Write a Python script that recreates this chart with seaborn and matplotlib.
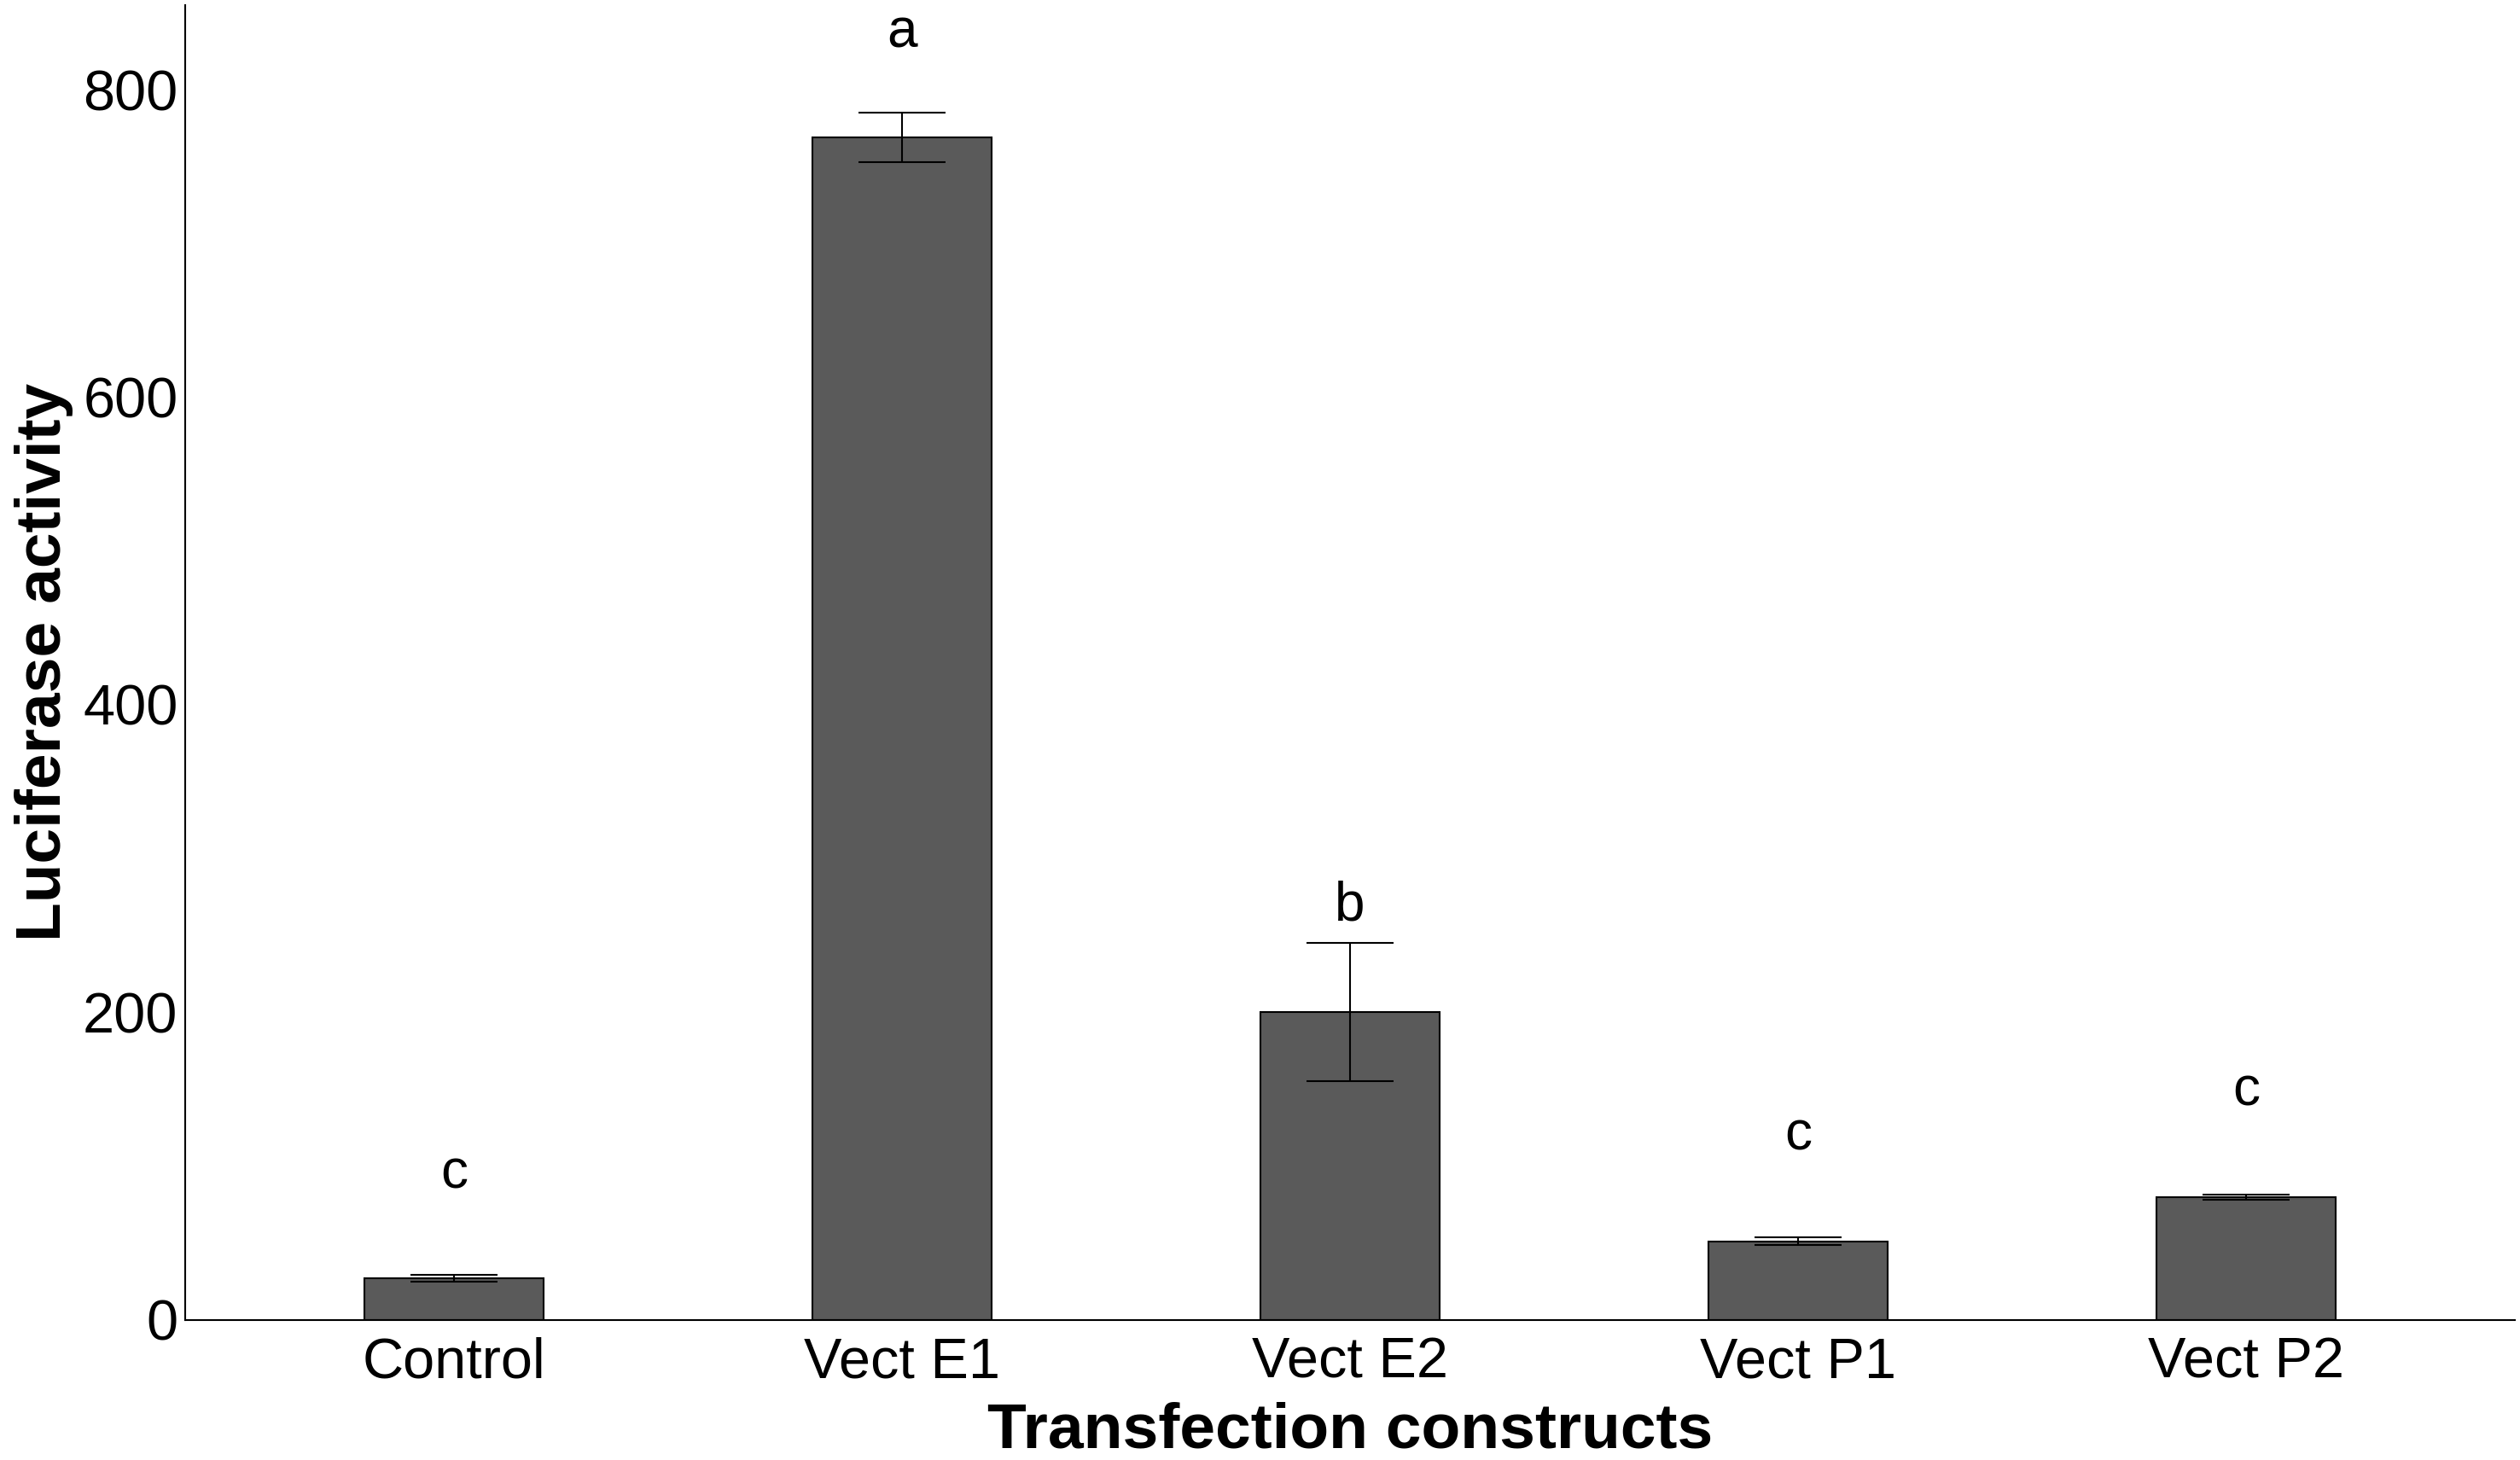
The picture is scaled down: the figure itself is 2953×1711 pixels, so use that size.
import matplotlib
matplotlib.use("Agg")
import matplotlib.pyplot as plt
import seaborn as sns

# data
constructs = ["Control", "Vect E1", "Vect E2", "Vect P1", "Vect P2"]
activity = [27, 769, 200, 51, 80]
error = [2.3, 16, 45, 2.5, 1.7]
letters = ["c", "a", "b", "c", "c"]
letter_y = [95, 837, 269, 120, 149]

sns.set_style("white")
plt.rcParams["font.family"] = ["Liberation Sans", "DejaVu Sans"]
plt.rcParams["text.color"] = "black"
plt.rcParams["axes.labelcolor"] = "black"

fig = plt.figure(figsize=(29.53, 17.11), dpi=100)
ax = fig.add_axes([0.0734, 0.096, 0.9246, 0.9005])

sns.barplot(
    x=constructs,
    y=activity,
    color="#5a5a5a",
    saturation=1,
    width=0.4,
    edgecolor="black",
    linewidth=1.5,
    errorbar=None,
    ax=ax,
)

# error bars on top of the bars
centers = [p.get_x() + p.get_width() / 2 for p in ax.patches]
ax.errorbar(
    centers,
    activity,
    yerr=error,
    fmt="none",
    ecolor="black",
    elinewidth=1.5,
    capsize=37,
    capthick=1.5,
    zorder=5,
)

# significance letters
for xc, ly, lt in zip(centers, letter_y, letters):
    ax.text(xc, ly, lt, ha="center", va="center", fontsize=46, color="black")

ax.set_xlim(-0.6, 4.6)
ax.set_ylim(0, 855)
ax.set_yticks([0, 200, 400, 600, 800])

sns.despine(ax=ax)
for side in ["left", "bottom"]:
    ax.spines[side].set_linewidth(1.5)
    ax.spines[side].set_color("black")

ax.tick_params(axis="both", length=0, labelsize=48, colors="black")
ax.tick_params(axis="x", pad=14)
ax.tick_params(axis="y", pad=6)

ax.set_xlabel("Transfection constructs", fontsize=54, fontweight="bold", color="black")
ax.set_ylabel("Luciferase activity", fontsize=54, fontweight="bold", color="black")
ax.xaxis.set_label_coords(0.5, -0.062)
ax.yaxis.set_label_coords(-0.048, 0.5)

fig.savefig("out.png", dpi=100)
